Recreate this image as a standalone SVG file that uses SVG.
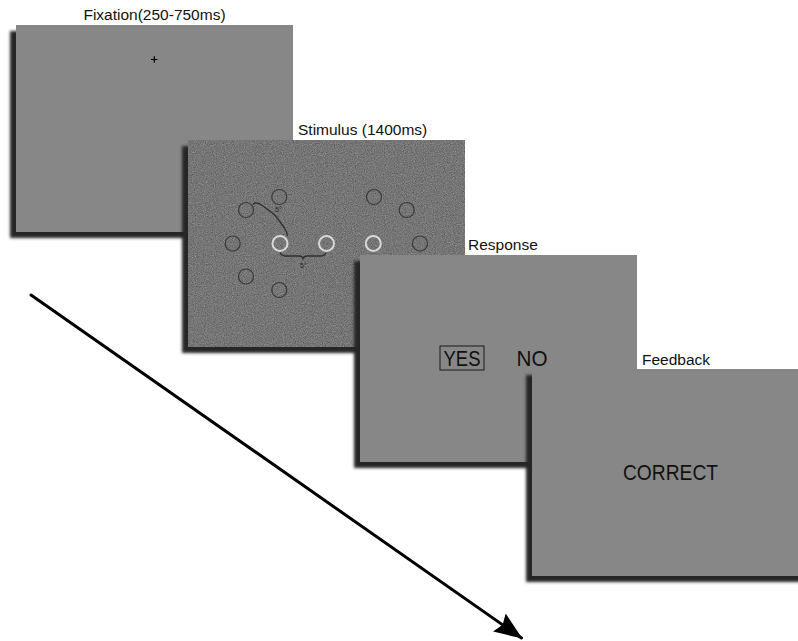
<svg xmlns="http://www.w3.org/2000/svg" width="798" height="641" viewBox="0 0 798 641">
  <defs>
    <filter id="shadow" x="-10%" y="-10%" width="120%" height="120%">
      <feGaussianBlur stdDeviation="1.8"/>
    </filter>
    <filter id="noise" x="0" y="0" width="100%" height="100%" color-interpolation-filters="sRGB">
      <feTurbulence type="fractalNoise" baseFrequency="0.9" numOctaves="2" seed="7" result="t"/>
      <feColorMatrix in="t" type="matrix" values="0.18 0.18 0.18 0 0.19  0.18 0.18 0.18 0 0.19  0.18 0.18 0.18 0 0.19  0 0 0 0 1"/>
    </filter>
    <marker id="arrowhead" markerWidth="28" markerHeight="24" refX="27" refY="12" orient="auto" markerUnits="userSpaceOnUse">
      <path d="M0,1 L28,12 L0,23 L4,12 Z" fill="#000"/>
    </marker>
  </defs>
  <style>
    .panel { fill: #878787; }
    .shadow { fill: #262626; filter: url(#shadow); }
    .label { font-family: "Liberation Sans", Arial, sans-serif; font-size: 15.5px; fill: #111; }
    .big { font-family: "Liberation Sans", Arial, sans-serif; font-size: 22px; fill: #111; }
    .ring { fill: none; stroke: #3a3a3a; stroke-width: 1.2; }
    .target { fill: none; stroke: #d8d8d8; stroke-width: 2; }
    .brace { fill: none; stroke: #2e2e2e; stroke-width: 1.3; }
    .deg { font-family: "Liberation Sans", Arial, sans-serif; font-size: 7px; fill: #222; }
  </style>
  <rect width="798" height="641" fill="#fff"/>

  <g id="fixation">
    <text class="label" x="154.5" y="20" text-anchor="middle">Fixation(250-750ms)</text>
    <rect class="shadow" x="10" y="31" width="277" height="207"/>
    <rect class="panel" x="16" y="25" width="277" height="207"/>
    <path d="M151,59.5 H157.5 M154.3,56.3 V62.8" stroke="#000" stroke-width="1.2"/>
  </g>

  <g id="stimulus">
    <text class="label" x="298" y="135">Stimulus (1400ms)</text>
    <rect class="shadow" x="182" y="146" width="277" height="207"/>
    <rect x="188" y="140" width="277" height="207" fill="#808080" filter="url(#noise)"/>
    <circle class="ring" cx="279.3" cy="197" r="7.5"/>
    <circle class="ring" cx="246" cy="210" r="7.5"/>
    <circle class="ring" cx="232.7" cy="243.5" r="7.5"/>
    <circle class="ring" cx="246" cy="276.5" r="7.5"/>
    <circle class="ring" cx="279.3" cy="290" r="7.5"/>
    <circle class="ring" cx="374" cy="197" r="7.5"/>
    <circle class="ring" cx="406.7" cy="210" r="7.5"/>
    <circle class="ring" cx="420" cy="243.5" r="7.5"/>
    <circle class="target" cx="280" cy="243.5" r="7.5"/>
    <circle class="target" cx="326.5" cy="243.5" r="7.5"/>
    <circle class="target" cx="373.3" cy="243.5" r="7.5"/>
    <path class="brace" d="M252.7,204 C256,202 260,203.5 263,206 C267,209 271,212 274.3,214.5 C277,218 282,224 285,229 C287,232 287.5,234 287,236"/>
    <text class="deg" x="275" y="212">5°</text>
    <path class="brace" d="M280,252.5 C281,255 282.5,256 285,256 L299,256 C301,256 302.5,257 303,258.5 C303.5,257 305,256 307,256 L321,256 C323.5,256 325,255 326,253"/>
    <text class="deg" x="300" y="268">5°</text>
  </g>

  <g id="response">
    <text class="label" x="468" y="250">Response</text>
    <rect class="shadow" x="354" y="261" width="277" height="207"/>
    <rect class="panel" x="360" y="255" width="277" height="207"/>
    <rect x="440" y="346" width="44" height="24" fill="none" stroke="#1a1a1a" stroke-width="1"/>
    <text class="big" x="462" y="366" text-anchor="middle" textLength="37" lengthAdjust="spacingAndGlyphs">YES</text>
    <text class="big" x="532" y="366" text-anchor="middle" textLength="31" lengthAdjust="spacingAndGlyphs">NO</text>
  </g>

  <g id="feedback">
    <text class="label" x="642" y="365">Feedback</text>
    <rect class="shadow" x="526" y="375" width="277" height="207"/>
    <rect class="panel" x="532" y="369" width="277" height="207"/>
    <text class="big" x="670.5" y="480" text-anchor="middle" textLength="95" lengthAdjust="spacingAndGlyphs">CORRECT</text>
  </g>

  <g id="connectors">
    <line x1="31" y1="295" x2="521.5" y2="638" stroke="#000" stroke-width="3" stroke-linecap="round" marker-end="url(#arrowhead)"/>
  </g>
</svg>
